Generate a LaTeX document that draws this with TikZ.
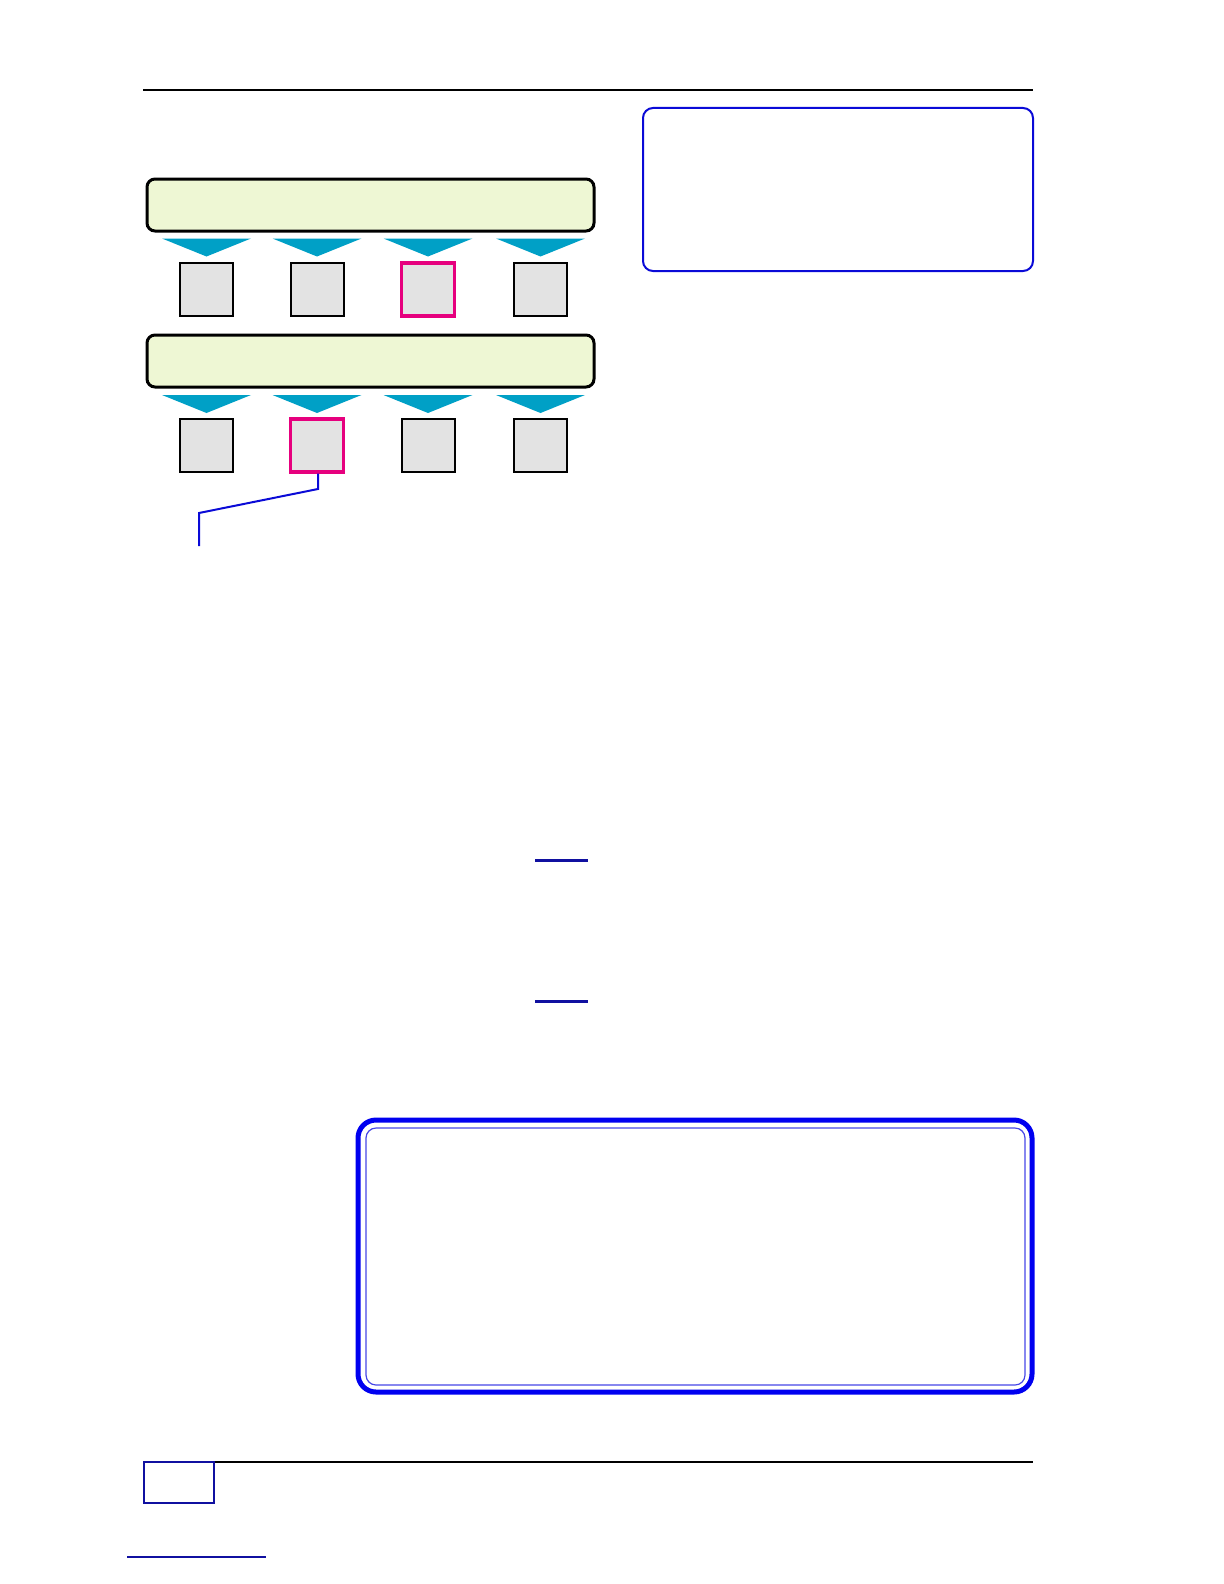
\documentclass[tikz,border=0pt]{standalone}
\usepackage{tikz}
\usetikzlibrary{positioning}
\definecolor{barfill}{RGB}{238,247,212}
\definecolor{arrowteal}{RGB}{0,160,198}
\definecolor{cellgray}{RGB}{227,227,227}
\definecolor{hilite}{RGB}{230,0,126}
\definecolor{noteblue}{RGB}{10,10,215}
\definecolor{linkblue}{RGB}{16,16,160}

\begin{document}
\begin{tikzpicture}[x=0.5pt,y=0.5pt,yscale=-1,xscale=1,
  bar/.style={draw=black,fill=barfill,line width=1.5pt,rounded corners=4pt,minimum width=223.5pt,minimum height=26pt,inner sep=0pt},
  cell/.style={draw=black,fill=cellgray,line width=1pt,minimum size=26.5pt,inner sep=0pt},
  hicell/.style={cell,draw=hilite,line width=1.6pt},
  rule/.style={line width=0.7pt},
  underl/.style={draw=linkblue,line width=1.5pt}]
\useasboundingbox (0,0) rectangle (1224,1584);

%header rule
\draw [rule]  (143,90) -- (1033,90) ;

%Note box top right
\draw [noteblue,line width=1pt,rounded corners=5pt]  (643,108) rectangle (1033,271) ;

%Bars
\node [bar] (barA) at (370.5,205) {};
\node [bar] (barB) at (370.5,361) {};

%Arrows and cells, first row
\foreach \cx/\st [count=\i] in {206.5/cell,317/cell,428/hicell,540.5/cell}{
  \fill [arrowteal]  (\cx-44.5,238.5) -- (\cx+44.5,238.5) -- (\cx,256.5) -- cycle ;
  \node [\st] (a\i) at (\cx,289.5) {};
}
%Arrows and cells, second row
\foreach \cx/\st [count=\i] in {206.5/cell,317/hicell,428/cell,540.5/cell}{
  \fill [arrowteal]  (\cx-44.5,395) -- (\cx+44.5,395) -- (\cx,413) -- cycle ;
  \node [\st] (b\i) at (\cx,445.5) {};
}

%Leader line
\coordinate (bendA) at (318,489);
\coordinate (bendB) at (199,513);
\coordinate (leadEnd) at (199,546);
\draw [noteblue,line width=1pt]  (b2.south -| bendA) -- (bendA) -- (bendB) -- (leadEnd) ;

%Underlines
\draw [underl]  (535,860) -- (588,860) ;
\draw [underl]  (535,1001) -- (588,1001) ;

%Framed box bottom
\draw [draw={rgb,255:red,0;green,0;blue,240},line width=2.5pt,rounded corners=9pt]  (358,1120) rectangle (1032,1392) ;
\draw [draw={rgb,255:red,70;green,70;blue,230},line width=0.6pt,rounded corners=5pt]  (366,1128) rectangle (1025,1385) ;

%footer
\draw [rule]  (143,1462) -- (1033,1462) ;
\draw [linkblue,line width=0.7pt]  (144,1462) rectangle (214,1503) ;
\draw [linkblue,line width=0.6pt]  (127,1557) -- (266,1557) ;
\end{tikzpicture}
\end{document}
